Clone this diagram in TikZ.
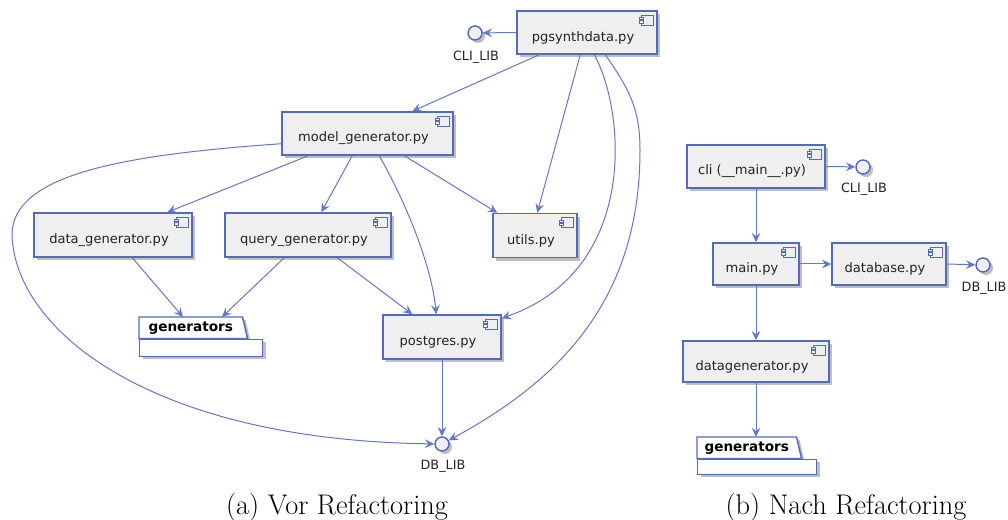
\documentclass[tikz,border=0pt]{standalone}
\usepackage{fontspec}
\newfontfamily\dvsans{DejaVu Sans}
\newfontfamily\dvsansb{DejaVu Sans Bold}
\usetikzlibrary{arrows.meta,shadows,calc}
\definecolor{bord}{RGB}{84,106,192}
\definecolor{edgec}{RGB}{98,120,202}
\definecolor{boxfill}{RGB}{239,239,239}
\definecolor{txt}{RGB}{35,35,35}
\tikzset{
  myshadow/.style={drop shadow={shadow xshift=2.3pt,shadow yshift=-2.3pt,fill=black,opacity=0.25}},
  compbox/.style={rectangle,draw=bord,fill=boxfill,line width=1.1pt,inner sep=0pt,myshadow},
  comptext/.style={font=\dvsans\fontsize{9.8}{12}\selectfont,text=txt,inner sep=0pt},
  iconst/.style={draw=bord,fill=boxfill,line width=0.8pt},
  ifc/.style={circle,draw=bord,fill=boxfill,line width=1.1pt,minimum size=10.5pt,inner sep=0pt,myshadow},
  lbl/.style={font=\dvsans\fontsize{9.6}{11}\selectfont,text=txt,inner sep=0pt},
  pkgline/.style={draw=bord,fill=white,line width=1.1pt,myshadow},
  pkgtext/.style={font=\dvsansb\fontsize{10.2}{12}\selectfont,text=black,inner sep=0pt},
  dep/.style={draw=edgec,line width=0.75pt,-{Stealth[length=7pt,width=6.5pt,inset=2.6pt]}},
  capt/.style={font=\fontsize{21.3}{25}\selectfont,inner sep=0pt}
}
\newcommand\comp[6]{%
  \node[compbox,minimum width=#4*0.75pt,minimum height=#5*0.75pt] (#1) at (#2,#3) {};
  \node[comptext] (#1-t) at ($(#1.center)+(-4,5)$) {#6};
  \draw[iconst] ($(#1.north east)+(-16,5)$) rectangle ($(#1.north east)+(-4,15)$);
  \draw[iconst] ($(#1.north east)+(-18,7.3)$) rectangle ($(#1.north east)+(-14,9.5)$);
  \draw[iconst] ($(#1.north east)+(-18,10.7)$) rectangle ($(#1.north east)+(-14,12.9)$);
}
\newcommand\iface[5]{%
  \node[ifc] (#1) at (#2,#3) {};
  \node[lbl] (#1-l) at (#2+1,#5) {#4};
}
\newcommand\pkg[6]{% name, left, tabtop, tabw, bodyw, bodyh
  \node[inner sep=0pt,minimum width=#4*0.75pt,minimum height=21*0.75pt,anchor=north west] (#1tab) at (#2,#3) {};
  \path[pkgline] (#1tab.south west) -- (#1tab.north west) -- (#1tab.north east) -- ($(#1tab.south east)+(5,0)$) -- cycle;
  \node[rectangle,draw=bord,fill=white,line width=1.1pt,inner sep=0pt,myshadow,anchor=north west,minimum width=#5*0.75pt,minimum height=#6*0.75pt] (#1) at (#1tab.south west) {};
  \node[pkgtext] (#1-t) at (#1tab.center) {generators};
}
\begin{document}
\begin{tikzpicture}[x=0.75pt,y=-0.75pt]
\useasboundingbox (0,0) rectangle (1008,520);
% ---------- left diagram ----------
\comp{pg}{587}{32.5}{140}{43}{pgsynthdata.py}
\comp{model}{367.5}{133.5}{171}{43}{model\_generator.py}
\comp{data}{113}{235}{158}{44}{data\_generator.py}
\comp{query}{308}{235}{166}{44}{query\_generator.py}
\comp{utils}{535}{235.5}{84}{44}{utils.py}
\comp{pgres}{442}{337}{118}{44}{postgres.py}
\iface{cli1}{475}{33}{CLI\_LIB}{57}
\iface{db1}{442}{444}{DB\_LIB}{466}
\pkg{gen1}{139}{317}{103}{123}{17}

\draw[dep] (pg.west) -- (cli1);
\draw[dep] ($(pg.south west)+(23,0)$) -- ($(model.north west)+(131,0)$);
\draw[dep] ($(pg.south west)+(64,0)$) -- ($(utils.north west)+(45,0)$);
\draw[dep] ($(pg.south west)+(78,0)$) .. controls (625,110) and (640,270) .. ($(pgres.north east)+(0,4)$);
\draw[dep] ($(pg.south west)+(89,0)$) .. controls (630,90) and (640,110) .. (640,150)
   .. controls (640,300) and (560,380) .. (db1);

\draw[dep] ($(model.south west)+(27,0)$) -- ($(data.north west)+(134,0)$);
\draw[dep] ($(model.south west)+(71,0)$) -- ($(query.north west)+(97,0)$);
\draw[dep] ($(model.south west)+(123,0)$) -- ($(utils.north west)+(5,0)$);
\draw[dep] ($(model.south west)+(98,0)$) .. controls (410,210) and (432,270) .. ($(pgres.north west)+(54,0)$);
\draw[dep] ($(model.south west)+(0,-12)$) .. controls (120,155) and (12,175) .. (12,235)
   .. controls (15,330) and (150,440) .. (db1);

\draw[dep] ($(data.south west)+(99,0)$) -- ($(gen1tab.north west)+(44,0)$);
\draw[dep] ($(query.south west)+(60,0)$) -- ($(gen1tab.north west)+(83,0)$);
\draw[dep] ($(query.south west)+(113,0)$) -- ($(pgres.north west)+(30,0)$);
\draw[dep] (pgres.south) -- (db1);

% ---------- right diagram ----------
\comp{cli}{756}{166.5}{138}{43}{cli (\_\_main\_\_.py)}
\comp{main}{756}{264}{86}{42}{main.py}
\comp{database}{889}{264}{114}{42}{database.py}
\comp{dg}{756}{361.5}{146}{41}{datagenerator.py}
\iface{cli2}{863}{167}{CLI\_LIB}{189}
\iface{db2}{983}{265}{DB\_LIB}{288}
\pkg{gen2}{697}{437}{99}{119}{15}

\draw[dep] (cli.east) -- (cli2);
\draw[dep] (cli.south) -- (main.north);
\draw[dep] (main.east) -- (database.west);
\draw[dep] (database.east) -- (db2);
\draw[dep] (main.south) -- (dg.north);
\draw[dep] (dg.south) -- ($(gen2tab.north west)+(59,0)$);

% ---------- captions ----------
\node[capt] (capa) at (337,507) {(a) Vor Refactoring};
\node[capt] (capb) at (846,507) {(b) Nach Refactoring};
\end{tikzpicture}
\end{document}
